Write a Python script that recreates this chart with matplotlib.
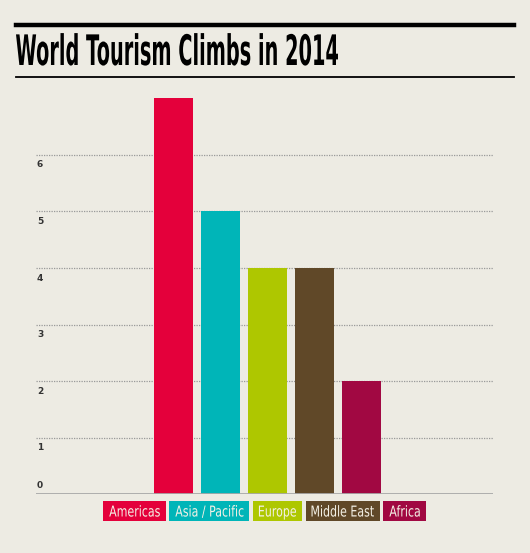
import matplotlib.pyplot as plt
from matplotlib.font_manager import FontProperties
from matplotlib.textpath import TextPath
from matplotlib.patches import PathPatch, Rectangle
from matplotlib.transforms import Affine2D

regions = ["Americas", "Asia / Pacific", "Europe", "Middle East", "Africa"]
values = [7, 5, 4, 4, 2]
colors = ["#E4003B", "#00B5B8", "#AEC700", "#604828", "#A10842"]
yticks = [0, 1, 2, 3, 4, 5, 6]

bg = "#EDEBE3"
W, H = 530, 553

fig = plt.figure(figsize=(W / 100, H / 100), dpi=100, facecolor=bg)
px = Affine2D().scale(1 / 100) + fig.dpi_scale_trans   # pixel coords, origin bottom-left

ax = fig.add_axes([36 / W, 1 - 494.3 / H, 457 / W, 396.2 / H])
ax.set_facecolor(bg)

x = list(range(len(regions)))
ax.bar(x, values, width=0.83, color=colors, zorder=3)
ax.set_xlim(-2.93, 6.8)
ax.set_ylim(0, 7)

for t in yticks[1:]:
    ax.axhline(t, color="#999999", lw=0.9, ls=(0, (1, 1)), zorder=1)
ax.axhline(0, color="#A8A8A8", lw=2, zorder=4)

for t in yticks:
    va = "bottom" if t == 0 else "top"
    off = 0.08 if t == 0 else -0.1
    ax.text(0.002, t + off, str(t), transform=ax.get_yaxis_transform(),
            ha="left", va=va, fontsize=6.5, color="#333333", fontweight="bold")

for s in ax.spines.values():
    s.set_visible(False)
ax.set_xticks([])
ax.set_yticks([])


def squeezed_text(text, x0, baseline, size, sx, weight="normal", color="black"):
    # condensed text: DejaVu glyph outlines squeezed horizontally
    p = TextPath((0, 0), text, size=size,
                 prop=FontProperties(family="DejaVu Sans", weight=weight))
    ext = p.get_extents()
    tr = Affine2D().translate(-ext.x0, 0).scale(sx, 1).translate(x0, H - baseline)
    fig.add_artist(PathPatch(p, transform=tr + px, fc=color, ec="none", lw=0))
    return ext.width * sx


# header rules and title
fig.add_artist(plt.Line2D([16, 514], [H - 25, H - 25], transform=px,
                          color="black", lw=3.2))
fig.add_artist(plt.Line2D([16, 514], [H - 77, H - 77], transform=px,
                          color="black", lw=1.3))
title = "World Tourism Climbs in 2014"
tw = TextPath((0, 0), title, size=42,
              prop=FontProperties(family="DejaVu Sans", weight="bold")).get_extents().width
squeezed_text(title, 16, 65, 42, 322 / tw, weight="bold")

# legend as colored label boxes, laid out left to right
lsize, lsx, pad, gap = 15, 0.735, 6, 3.5
widths = []
for name in regions:
    p = TextPath((0, 0), name, size=lsize, prop=FontProperties(family="DejaVu Sans"))
    widths.append(p.get_extents().width * lsx + 2 * pad)
total = sum(widths) + gap * (len(widths) - 1)
left = 264.5 - total / 2
for name, c, w in zip(regions, colors, widths):
    fig.add_artist(Rectangle((left, H - 521), w, 20, transform=px,
                             fc=c, ec="none"))
    squeezed_text(name, left + pad, 516.5, lsize, lsx, color="#F4F1E6")
    left += w + gap

fig.savefig("out.png", dpi=100, facecolor=bg)
